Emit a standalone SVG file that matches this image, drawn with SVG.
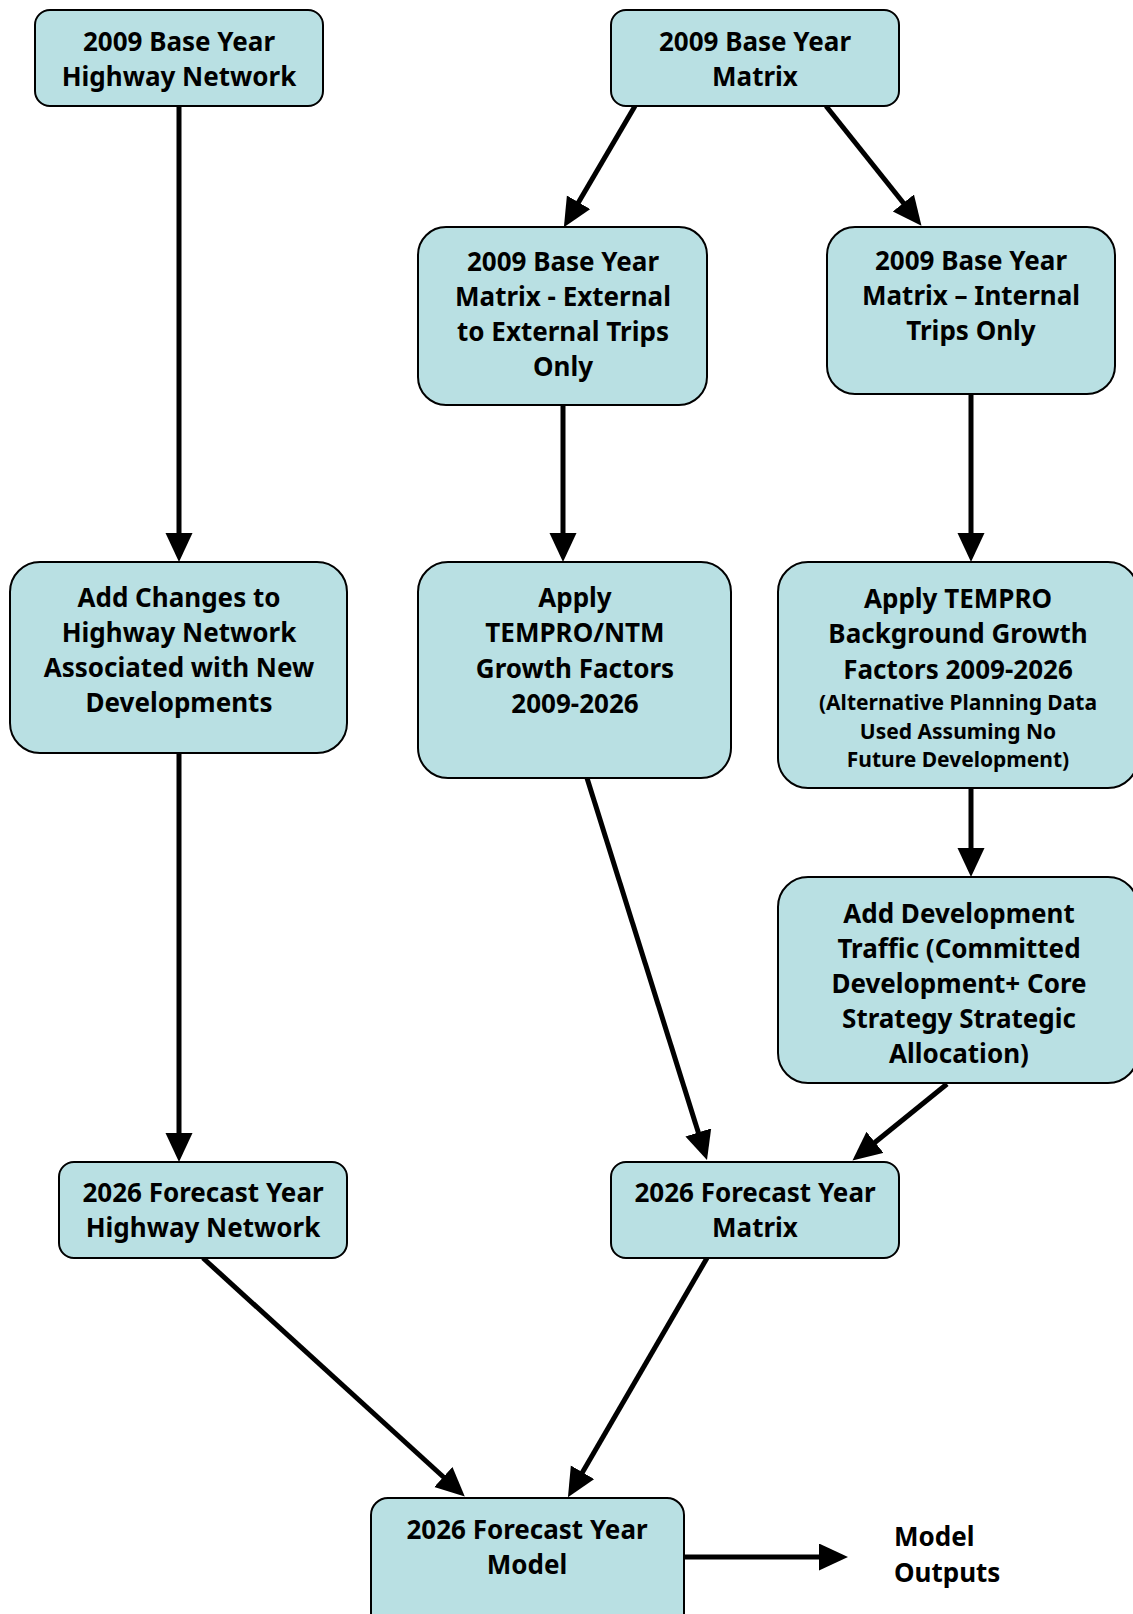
<svg xmlns="http://www.w3.org/2000/svg" width="1133" height="1614" viewBox="0 0 1133 1614">
<defs>
<style>
.box{fill:#b9e0e3;stroke:#000;stroke-width:2}
.t{font-family:"Noto Sans","Open Sans","DejaVu Sans",sans-serif;font-weight:bold;font-size:26px;fill:#000;text-anchor:middle}
.s{font-size:21px}
.l{text-anchor:start}
.c{stroke:#000;stroke-width:5;fill:none;marker-end:url(#ah)}
</style>
<marker id="ah" markerUnits="userSpaceOnUse" markerWidth="30" markerHeight="28" refX="9" refY="13.5" orient="auto">
<path d="M0,0 L29,13.5 L0,27 z" fill="#000"/>
</marker>
</defs>
<rect width="1133" height="1614" fill="#fff"/>
<g id="connectors">
<line class="c" x1="179" y1="106" x2="179" y2="542"/>
<line class="c" x1="635" y1="106" x2="574" y2="210"/>
<line class="c" x1="826" y1="106" x2="909" y2="210"/>
<line class="c" x1="563" y1="405" x2="563" y2="542"/>
<line class="c" x1="971" y1="394" x2="971" y2="542"/>
<line class="c" x1="179" y1="753" x2="179" y2="1142"/>
<line class="c" x1="587" y1="778" x2="701" y2="1141"/>
<line class="c" x1="971" y1="788" x2="971" y2="857"/>
<line class="c" x1="947" y1="1084" x2="868" y2="1148"/>
<line class="c" x1="203" y1="1258" x2="450" y2="1483"/>
<line class="c" x1="707" y1="1258" x2="578" y2="1480"/>
<line class="c" x1="684" y1="1557" x2="828" y2="1557"/>
</g>
<g id="n1">
<rect class="box" x="35" y="10" width="288" height="96" rx="15"/>
<text class="t" x="179" y="51">2009 Base Year</text>
<text class="t" x="179" y="86">Highway Network</text>
</g>
<g id="n2">
<rect class="box" x="611" y="10" width="288" height="96" rx="15"/>
<text class="t" x="755" y="51">2009 Base Year</text>
<text class="t" x="755" y="86">Matrix</text>
</g>
<g id="n3">
<rect class="box" x="418" y="227" width="289" height="178" rx="28"/>
<text class="t" x="563" y="271">2009 Base Year</text>
<text class="t" x="563" y="306">Matrix - External</text>
<text class="t" x="563" y="341">to External Trips</text>
<text class="t" x="563" y="376">Only</text>
</g>
<g id="n4">
<rect class="box" x="827" y="227" width="288" height="167" rx="28"/>
<text class="t" x="971" y="270">2009 Base Year</text>
<text class="t" x="971" y="305">Matrix – Internal</text>
<text class="t" x="971" y="340">Trips Only</text>
</g>
<g id="n5">
<rect class="box" x="10" y="562" width="337" height="191" rx="30"/>
<text class="t" x="179" y="607">Add Changes to</text>
<text class="t" x="179" y="642">Highway Network</text>
<text class="t" x="179" y="677">Associated with New</text>
<text class="t" x="179" y="712">Developments</text>
</g>
<g id="n6">
<rect class="box" x="418" y="562" width="313" height="216" rx="30"/>
<text class="t" x="575" y="607">Apply</text>
<text class="t" x="575" y="642">TEMPRO/NTM</text>
<text class="t" x="575" y="678">Growth Factors</text>
<text class="t" x="575" y="713">2009-2026</text>
</g>
<g id="n7">
<rect class="box" x="778" y="562" width="360" height="226" rx="30"/>
<text class="t" x="958" y="608">Apply TEMPRO</text>
<text class="t" x="958" y="643">Background Growth</text>
<text class="t" x="958" y="679">Factors 2009-2026</text>
<text class="t s" x="958" y="710">(Alternative Planning Data</text>
<text class="t s" x="958" y="739">Used Assuming No</text>
<text class="t s" x="958" y="767">Future Development)</text>
</g>
<g id="n8">
<rect class="box" x="778" y="877" width="360" height="206" rx="30"/>
<text class="t" x="959" y="923">Add Development</text>
<text class="t" x="959" y="958">Traffic (Committed</text>
<text class="t" x="959" y="993">Development+ Core</text>
<text class="t" x="959" y="1028">Strategy Strategic</text>
<text class="t" x="959" y="1063">Allocation)</text>
</g>
<g id="n9">
<rect class="box" x="59" y="1162" width="288" height="96" rx="15"/>
<text class="t" x="203" y="1202">2026 Forecast Year</text>
<text class="t" x="203" y="1237">Highway Network</text>
</g>
<g id="n10">
<rect class="box" x="611" y="1162" width="288" height="96" rx="15"/>
<text class="t" x="755" y="1202">2026 Forecast Year</text>
<text class="t" x="755" y="1237">Matrix</text>
</g>
<g id="n11">
<rect class="box" x="371" y="1498" width="313" height="140" rx="17"/>
<text class="t" x="527" y="1539">2026 Forecast Year</text>
<text class="t" x="527" y="1574">Model</text>
</g>
<g id="n12">
<text class="t l" x="894" y="1546">Model</text>
<text class="t l" x="894" y="1582">Outputs</text>
</g>
</svg>
